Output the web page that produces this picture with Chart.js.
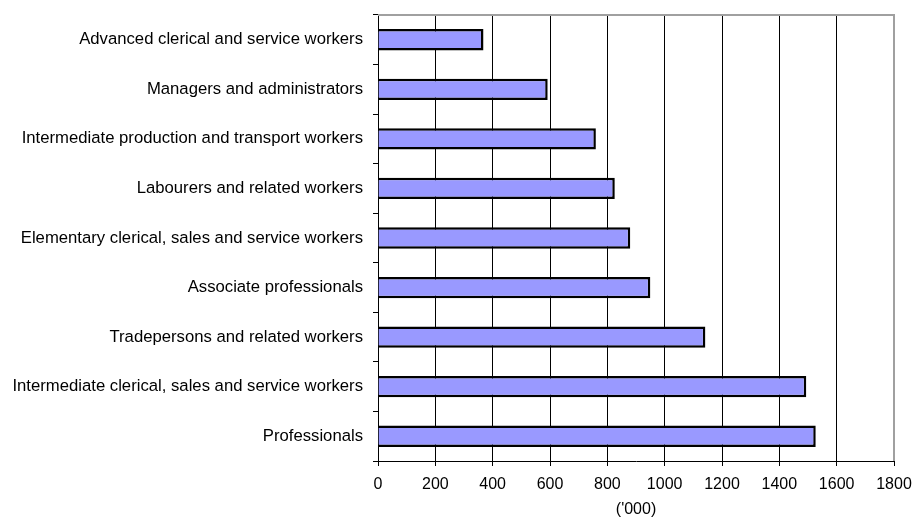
<!DOCTYPE html>
<html>
<head>
<meta charset="utf-8">
<title>Employment by occupation</title>
<script src="https://cdn.jsdelivr.net/npm/chart.js@4.4.1/dist/chart.umd.min.js"></script>
<style>
  html, body { margin: 0; padding: 0; background: #fff; }
  #wrap { width: 913px; height: 519px; }
</style>
</head>
<body>
<div id="wrap"><canvas id="occupation-chart"></canvas></div>
<script>
// occupation groups, listed top to bottom
const occupations = [
  "Advanced clerical and service workers",
  "Managers and administrators",
  "Intermediate production and transport workers",
  "Labourers and related workers",
  "Elementary clerical, sales and service workers",
  "Associate professionals",
  "Tradepersons and related workers",
  "Intermediate clerical, sales and service workers",
  "Professionals",
];
// persons employed, thousands
const employed = [368, 592, 760, 826, 880, 950, 1142, 1494, 1527];
const xTicks = [0, 200, 400, 600, 800, 1000, 1200, 1400, 1600, 1800];
const xTitle = "('000)";

const FONT = "'Liberation Sans', Arial, sans-serif";

// grey frame along the top and right of the plot
const plotFrame = {
  id: "plotFrame",
  afterDraw(chart) {
    const { ctx, chartArea } = chart;
    ctx.save();
    ctx.strokeStyle = "#a0a0a0";
    ctx.lineWidth = 2;
    ctx.beginPath();
    ctx.moveTo(chartArea.left, chartArea.top);
    ctx.lineTo(chartArea.right, chartArea.top);
    ctx.lineTo(chartArea.right, chartArea.bottom);
    ctx.stroke();
    ctx.restore();
  },
};

const chart = new Chart(document.getElementById("occupation-chart"), {
  type: "bar",
  data: {
    labels: occupations,
    datasets: [
      {
        data: employed,
        backgroundColor: "#9999ff",
        borderColor: "#000",
        borderWidth: 2.5,
        barPercentage: 0.43,
        categoryPercentage: 1,
      },
    ],
  },
  options: {
    indexAxis: "y",
    responsive: true,
    maintainAspectRatio: false,
    animation: false,
    layout: { padding: { top: 15, right: 19, bottom: 0, left: 0 } },
    plugins: {
      legend: { display: false },
      tooltip: { enabled: false },
    },
    scales: {
      x: {
        min: xTicks[0],
        max: xTicks[xTicks.length - 1],
        afterBuildTicks(scale) {
          scale.ticks = xTicks.map((v) => ({ value: v }));
        },
        afterFit(scale) {
          scale.height = 58;
          scale.paddingLeft = 0;
          scale.paddingRight = 0;
        },
        border: { color: "#000", width: 1 },
        grid: {
          color: (ctx) =>
            ctx.tick && ctx.tick.value === xTicks[xTicks.length - 1]
              ? "rgba(0,0,0,0)"
              : "#000",
          tickColor: "#000",
          lineWidth: 1,
          tickLength: 5,
        },
        ticks: {
          color: "#000",
          padding: 9,
          maxRotation: 0,
          callback: (value) => String(value),
          font: { family: FONT, size: 16 },
        },
        title: {
          display: true,
          text: xTitle,
          color: "#000",
          padding: { top: -6, bottom: 0 },
          font: { family: FONT, size: 16 },
        },
      },
      y: {
        afterFit(scale) {
          scale.width = 378;
          scale.paddingTop = 0;
          scale.paddingBottom = 0;
        },
        border: { color: "#000", width: 1 },
        grid: {
          offset: true,
          drawOnChartArea: false,
          tickColor: "#000",
          tickLength: 5,
        },
        ticks: {
          color: "#000",
          padding: 10,
          font: { family: FONT, size: 16.7 },
        },
      },
    },
  },
  plugins: [plotFrame],
});
</script>
</body>
</html>
